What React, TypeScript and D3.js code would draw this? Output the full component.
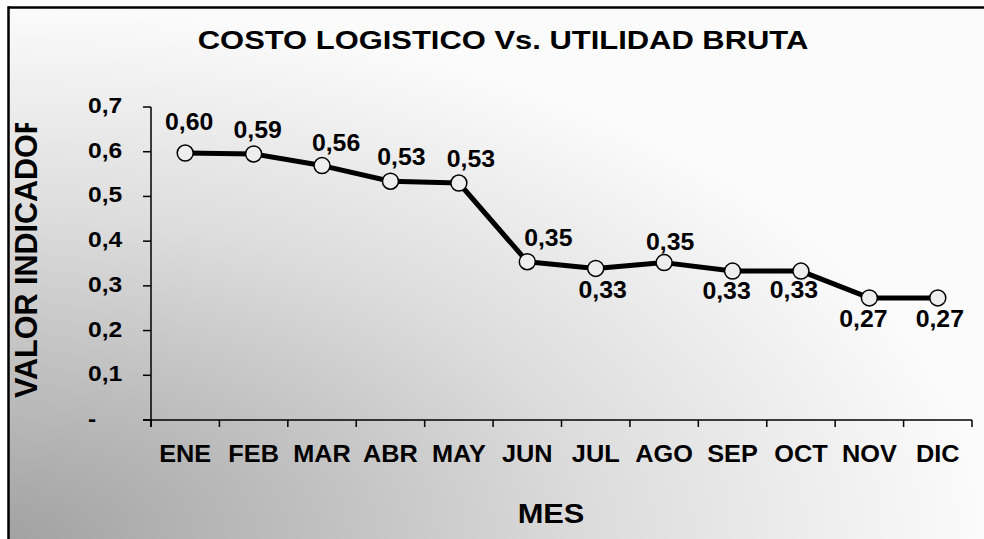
import React from "react";
import * as d3 from "d3";

const months = ["ENE", "FEB", "MAR", "ABR", "MAY", "JUN", "JUL", "AGO", "SEP", "OCT", "NOV", "DIC"];
const values = [0.597, 0.595, 0.569, 0.534, 0.53, 0.354, 0.339, 0.352, 0.333, 0.333, 0.273, 0.273];
const valueLabels = ["0,60", "0,59", "0,56", "0,53", "0,53", "0,35", "0,33", "0,35", "0,33", "0,33", "0,27", "0,27"];
const yTicks = [0, 0.1, 0.2, 0.3, 0.4, 0.5, 0.6, 0.7];
const title = "COSTO LOGISTICO Vs. UTILIDAD BRUTA";
const xTitle = "MES";
const yTitle = "VALOR INDICADOR";

// label placement (layout only): [dx, dy] from the marker
const labelOffsets: [number, number][] = [
  [4, -23], [4, -16], [14, -15], [11, -16], [12, -16], [21, -16],
  [7, 30], [6, -13], [-6, 28], [-7, 27], [-6, 29], [2, 29],
];

const W = 984;
const H = 539;
const FONT = "'Liberation Sans', Arial, Helvetica, sans-serif";

function T(props: {
  x: number; y: number; size: number; anchor?: string; sx?: number; children: React.ReactNode;
}) {
  const { x, y, size, anchor = "middle", sx = 1, children } = props;
  return (
    <text
      transform={`translate(${x},${y}) scale(${sx},1)`}
      textAnchor={anchor}
      fontFamily={FONT}
      fontWeight="bold"
      fontSize={size}
      fill="#000"
    >
      {children}
    </text>
  );
}

export default function App() {
  const x = d3.scaleBand<string>().domain(months).range([151, 972]).paddingInner(0).paddingOuter(0);
  const y = d3.scaleLinear().domain([0, 0.7]).range([420, 107]);
  const cx = (m: string) => (x(m) as number) + x.bandwidth() / 2;
  const line = d3
    .line<number>()
    .x((_, i) => cx(months[i]))
    .y((d) => y(d));
  const xTickPos = months.map((m) => x(m) as number).concat([972]);
  const fmt = (d: number) => (d === 0 ? "-" : d3.format(".1f")(d).replace(".", ","));

  return (
    <div style={{ position: "fixed", left: 0, top: 0, width: W, height: H, overflow: "hidden", background: "#fff" }}>
      <svg width={W} height={H} style={{ display: "block" }}>
        <defs>
          <radialGradient id="bg" cx="0" cy="1" r="1" fx="0" fy="1">
            <stop offset="0" stopColor="#a2a2a2" />
            <stop offset="0.3" stopColor="#bebebe" />
            <stop offset="0.6" stopColor="#dcdcdc" />
            <stop offset="1" stopColor="#fbfbfb" />
          </radialGradient>
          <clipPath id="ytclip">
            <rect x={0} y={123} width={120} height={400} />
          </clipPath>
        </defs>
        <rect x={0} y={0} width={W} height={H} fill="#fff" />
        <rect x={8} y={7} width={W - 8} height={H - 7} fill="url(#bg)" />
        <line x1={8} x2={W} y1={7.5} y2={7.5} stroke="#000" strokeWidth={2.5} />
        <line x1={8.5} x2={8.5} y1={6.25} y2={H} stroke="#000" strokeWidth={2.5} />

        <T x={503} y={49} size={26} sx={1.19}>{title}</T>

        {/* Y axis */}
        <line x1={151} x2={151} y1={y(0.7)} y2={427} stroke="#000" strokeWidth={1.5} />
        {yTicks.map((t) => (
          <g key={t}>
            <line x1={143} x2={151} y1={y(t)} y2={y(t)} stroke="#000" strokeWidth={1.5} />
            <T x={88} y={y(t) + 6} size={22} anchor="start" sx={1.12}>{fmt(t)}</T>
          </g>
        ))}

        {/* X axis */}
        <line x1={143} x2={972} y1={y(0)} y2={y(0)} stroke="#000" strokeWidth={1.5} />
        {xTickPos.map((p, i) => (
          <line key={i} x1={p} x2={p} y1={y(0)} y2={427} stroke="#000" strokeWidth={1.5} />
        ))}
        {months.map((m) => (
          <T key={m} x={cx(m)} y={462} size={23} sx={1.1}>{m}</T>
        ))}

        <T x={551} y={523} size={28} sx={1.1}>{xTitle}</T>

        <g clipPath="url(#ytclip)">
          <text
            transform="translate(37,398) rotate(-90)"
            textAnchor="start"
            fontFamily={FONT}
            fontWeight="bold"
            fontSize={30.5}
            fill="#000"
          >
            {yTitle}
          </text>
        </g>

        {/* series */}
        <path d={line(values) || ""} fill="none" stroke="#000" strokeWidth={5} strokeLinejoin="round" />
        {values.map((v, i) => (
          <circle key={i} cx={cx(months[i])} cy={y(v)} r={8} fill="#eeeeee" stroke="#000" strokeWidth={1.5} />
        ))}
        {values.map((v, i) => (
          <T key={"l" + i} x={cx(months[i]) + labelOffsets[i][0]} y={y(v) + labelOffsets[i][1]} size={23} sx={1.08}>
            {valueLabels[i]}
          </T>
        ))}
      </svg>
    </div>
  );
}
